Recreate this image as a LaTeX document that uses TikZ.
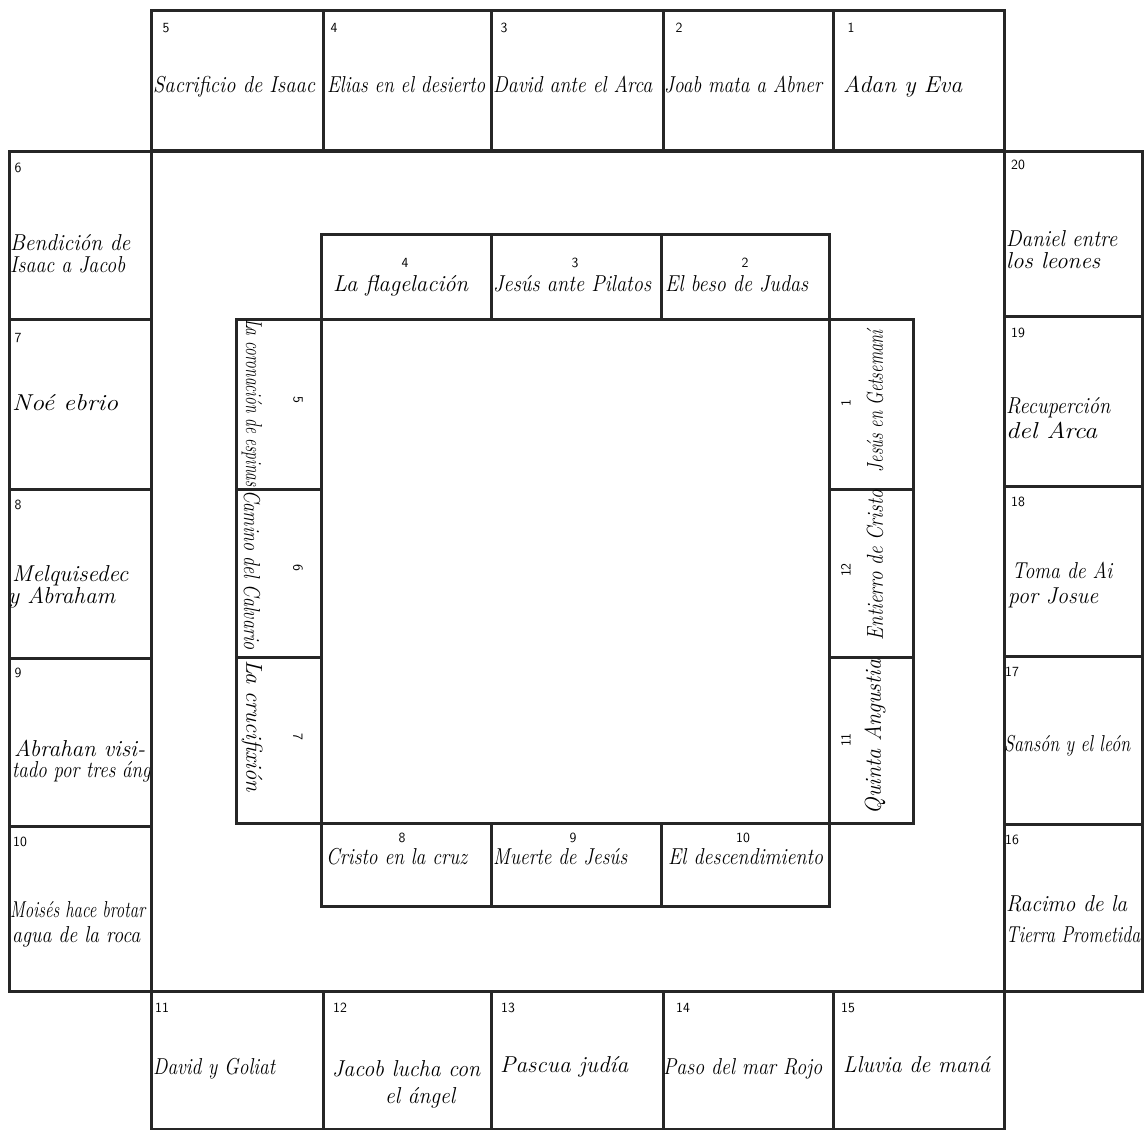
\documentclass[tikz,border=0pt]{standalone}
\usepackage{graphicx}
\newcommand\handfont{\rmfamily\itshape}
\newcommand\hw[2]{\resizebox{#1pt}{\height}{#2}}
\tikzset{
  cellbox/.style={draw=black!85, line width=2.6pt, inner sep=0pt, anchor=north west},
  num/.style={font=\sffamily\fontsize{14}{15}\selectfont, inner sep=0pt},
  lab/.style={font=\handfont\fontsize{23}{25}\selectfont, inner sep=0pt},
  labl/.style={lab, anchor=base west},
  labc/.style={lab, anchor=base},
}
\newcommand\cell[5]{\node[cellbox, minimum width={#4-#2}, minimum height={#5-#3}] (#1) at (#2,#3) {};}
\begin{document}
\begin{tikzpicture}[x=1pt,y=-1pt]
\useasboundingbox (0,0) rectangle (1144,1130);
% ---------- outer ring: top row
\cell{t5}{150}{9}{322}{149}
\cell{t4}{322}{9}{490}{149}
\cell{t3}{490}{9}{662}{149}
\cell{t2}{662}{9}{832}{149}
\cell{t1}{832}{9}{1003}{149}
% left column
\cell{l6}{8}{150}{150}{318}
\cell{l7}{8}{318}{150}{488}
\cell{l8}{8}{488}{150}{657}
\cell{l9}{8}{657}{150}{825}
\cell{l10}{8}{825}{150}{990}
% right column
\cell{r20}{1003}{150}{1141}{315}
\cell{r19}{1003}{315}{1141}{485}
\cell{r18}{1003}{485}{1141}{655}
\cell{r17}{1003}{655}{1141}{823}
\cell{r16}{1003}{823}{1141}{990}
% bottom row
\cell{b11}{150}{990}{322}{1128}
\cell{b12}{322}{990}{490}{1128}
\cell{b13}{490}{990}{662}{1128}
\cell{b14}{662}{990}{832}{1128}
\cell{b15}{832}{990}{1003}{1128}
% frame of the court
\cell{court}{150}{150}{1003}{990}
% ---------- inner ring
\cell{it4}{320}{233}{490}{318}
\cell{it3}{490}{233}{660}{318}
\cell{it2}{660}{233}{828}{318}
\cell{il5}{235}{318}{320}{488}
\cell{il6}{235}{488}{320}{656}
\cell{il7}{235}{656}{320}{822}
\cell{ir1}{828}{318}{912}{488}
\cell{ir12}{828}{488}{912}{656}
\cell{ir11}{828}{656}{912}{822}
\cell{ib8}{320}{822}{490}{905}
\cell{ib9}{490}{822}{660}{905}
\cell{ib10}{660}{822}{828}{905}
\cell{centre}{320}{318}{828}{822}

% ---------- outer labels: top row
\node[num] (n5) at (166,28) {5};
\node[labl] (s5) at (153,92) {\hw{162}{Sacrificio de Isaac}};
\node[num] (n4) at (334,28) {4};
\node[labl] (s4) at (327,92) {\hw{158}{Elias en el desierto}};
\node[num] (n3) at (504,28) {3};
\node[labl] (s3) at (493,92) {\hw{159}{David ante el Arca}};
\node[num] (n2) at (679,28) {2};
\node[labl] (s2) at (664,92) {\hw{158}{Joab mata a Abner}};
\node[num] (n1) at (851,28) {1};
\node[labl] (s1) at (843,92) {\hw{119}{Adan y Eva}};
% left column
\node[num] (n6) at (18,168) {6};
\node[labl] (s6a) at (10,250) {\hw{120}{Bendición de}};
\node[labl] (s6b) at (10,272) {\hw{115}{Isaac a Jacob}};
\node[num] (n7) at (18,338) {7};
\node[labl] (s7) at (12,410) {\hw{106}{Noé ebrio}};
\node[num] (n8) at (18,505) {8};
\node[labl] (s8a) at (12,581) {\hw{116}{Melquisedec}};
\node[labl] (s8b) at (8,603) {\hw{107}{y Abraham}};
\node[num] (n9) at (18,673) {9};
\node[labl] (s9a) at (14,756) {\hw{131}{Abrahan visi-}};
\begin{scope}
\clip (8,657) rectangle (149,825);
\node[labl] (s9b) at (12,777) {\hw{168}{tado por tres ángeles}};
\end{scope}
\node[num] (n10) at (20,842) {10};
\node[labl] (s10a) at (10,917) {\hw{135}{Moisés hace brotar}};
\node[labl] (s10b) at (12,942) {\hw{128}{agua de la roca}};
% right column
\node[num] (n20) at (1018,165) {20};
\node[labl] (s20a) at (1006,246) {\hw{111}{Daniel entre}};
\node[labl] (s20b) at (1006,268) {\hw{94}{los leones}};
\node[num] (n19) at (1018,333) {19};
\node[labl] (s19a) at (1006,413) {\hw{104}{Recuperción}};
\node[labl] (s19b) at (1006,438) {\hw{91}{del Arca}};
\node[num] (n18) at (1018,502) {18};
\node[labl] (s18a) at (1012,578) {\hw{100}{Toma de Ai}};
\node[labl] (s18b) at (1008,603) {\hw{90}{por Josue}};
\node[num] (n17) at (1012,672) {17};
\node[labl] (s17) at (1004,751) {\hw{126}{Sansón y el león}};
\node[num] (n16) at (1012,840) {16};
\node[labl] (s16a) at (1006,911) {\hw{121}{Racimo de la}};
\node[labl] (s16b) at (1006,942) {\hw{134}{Tierra Prometida}};
% bottom row
\node[num] (n11) at (162,1008) {11};
\node[labl] (s11) at (153,1074) {\hw{122}{David y Goliat}};
\node[num] (n12) at (340,1008) {12};
\node[labl] (s12a) at (332,1076) {\hw{148}{Jacob lucha con}};
\node[labl] (s12b) at (385,1103) {\hw{70}{el ángel}};
\node[num] (n13) at (508,1008) {13};
\node[labl] (s13) at (500,1072) {\hw{128}{Pascua judía}};
\node[num] (n14) at (683,1008) {14};
\node[labl] (s14) at (663,1074) {\hw{159}{Paso del mar Rojo}};
\node[num] (n15) at (848,1008) {15};
\node[labl] (s15) at (843,1072) {\hw{147}{Lluvia de maná}};

% ---------- inner labels: top row
\node[num] (m4) at (405,263) {4};
\node[labl] (q4) at (333,291) {\hw{135}{La flagelación}};
\node[num] (m3) at (575,263) {3};
\node[labl] (q3) at (493,291) {\hw{158}{Jesús ante Pilatos}};
\node[num] (m2) at (745,263) {2};
\node[labl] (q2) at (665,291) {\hw{143}{El beso de Judas}};
% left column (rotated)
\node[num, rotate=-90] (m5) at (298,400) {5};
\node[lab, rotate=-90] (q5) at (252,403) {\hw{168}{La coronación de espinas}};
\node[num, rotate=-90] (m6) at (298,568) {6};
\node[lab, rotate=-90] (q6) at (252,570) {\hw{160}{Camino del Calvario}};
\node[num, rotate=-90] (m7) at (298,737) {7};
\node[lab, rotate=-90] (q7) at (252,726) {\hw{132}{La crucifixión}};
% right column (rotated)
\node[num, rotate=90] (m1) at (846,403) {1};
\node[lab, rotate=90] (q1) at (875,401) {\hw{142}{Jesús en Getsemaní}};
\node[num, rotate=90] (m12) at (846,570) {12};
\node[lab, rotate=90] (q12) at (875,565) {\hw{150}{Entierro de Cristo}};
\node[num, rotate=90] (m11) at (846,740) {11};
\node[lab, rotate=90] (q11) at (875,737) {\hw{155}{Quinta Angustia}};
% bottom row
\node[num] (m8) at (402,838) {8};
\node[labl] (q8) at (326,864) {\hw{141}{Cristo en la cruz}};
\node[num] (m9) at (573,838) {9};
\node[labl] (q9) at (493,864) {\hw{134}{Muerte de Jesús}};
\node[num] (m10) at (743,838) {10};
\node[labl] (q10) at (668,864) {\hw{155}{El descendimiento}};
\end{tikzpicture}
\end{document}
